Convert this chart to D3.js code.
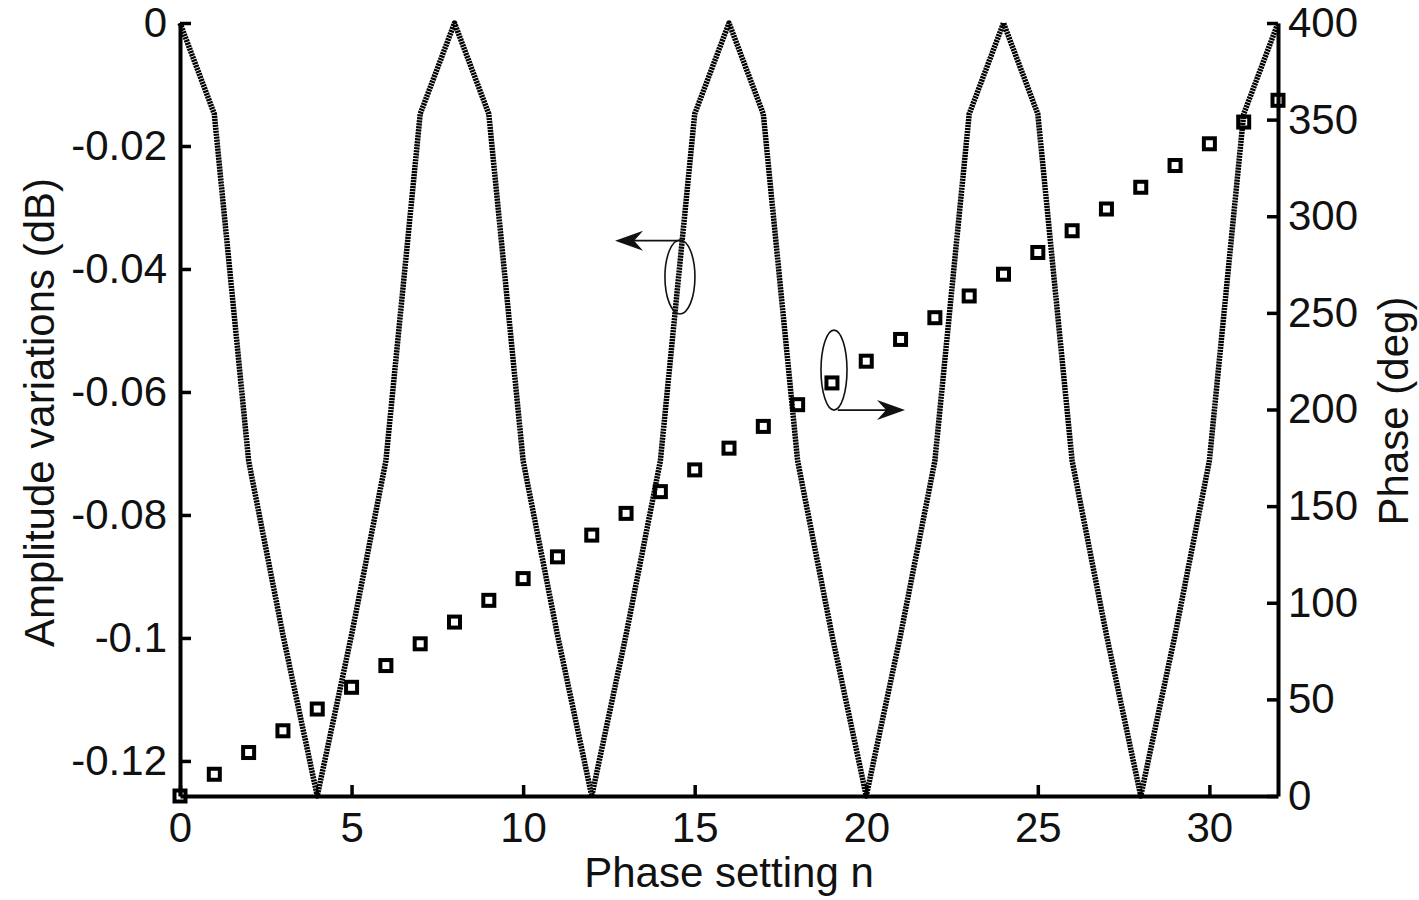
<!DOCTYPE html>
<html>
<head>
<meta charset="utf-8">
<script src="https://cdn.jsdelivr.net/npm/d3@7"></script>
<style>
  body { margin: 0; background: #fff; }
  svg { font-family: "Liberation Sans", Arial, sans-serif; }
</style>
</head>
<body>
<svg id="chart" width="1419" height="900"></svg>
<script>
// phase setting n = 0..32
const settings = [0,1,2,3,4,5,6,7,8,9,10,11,12,13,14,15,16,17,18,19,20,21,22,23,24,25,26,27,28,29,30,31,32];
// amplitude variation (dB)
const amplitude = [
  0, -0.0148, -0.0712, -0.0995, -0.1257, -0.0995, -0.0712, -0.0148,
  0, -0.0148, -0.0712, -0.0995, -0.1257, -0.0995, -0.0712, -0.0148,
  0, -0.0148, -0.0712, -0.0995, -0.1257, -0.0995, -0.0712, -0.0148,
  0, -0.0148, -0.0712, -0.0995, -0.1257, -0.0995, -0.0712, -0.0148,
  0
];
// phase (deg), square markers
const phase = [
  0, 11.25, 22.5, 33.75, 45, 56.25, 67.5, 78.75,
  90, 101.25, 112.5, 123.75, 135, 146.25, 157.5, 168.75,
  180, 191.25, 202.5, 213.75, 225, 236.25, 247.5, 258.75,
  270, 281.25, 292.5, 303.75, 315, 326.25, 337.5, 348.75,
  360
];
const xTicks = [0, 5, 10, 15, 20, 25, 30];
const leftTicks = [0, -0.02, -0.04, -0.06, -0.08, -0.1, -0.12];
const rightTicks = [0, 50, 100, 150, 200, 250, 300, 350, 400];

const margin = {left: 180, right: 141, top: 23, bottom: 104};
const width = 1419, height = 900;
const svg = d3.select("#chart");

const x = d3.scaleLinear().domain([0, 32]).range([margin.left, width - margin.right]);
const yL = d3.scaleLinear().domain([-0.1257, 0]).range([height - margin.bottom, margin.top]);
const yR = d3.scaleLinear().domain([0, 400]).range([height - margin.bottom, margin.top]);

const fontSize = 42;
const fmtL = d => d === 0 ? "0" : String(+d.toFixed(2));

// axes - ticks pointing inward like matlab
const xAxis = d3.axisBottom(x).tickValues(xTicks).tickSizeInner(-11).tickSizeOuter(0).tickPadding(16);
const leftAxis = d3.axisLeft(yL).tickValues(leftTicks).tickFormat(fmtL).tickSizeInner(-11).tickSizeOuter(0).tickPadding(13);
const rightAxis = d3.axisRight(yR).tickValues(rightTicks).tickSizeInner(-11).tickSizeOuter(0).tickPadding(10);

function styleAxis(g) {
  g.select(".domain").attr("stroke", "#000").attr("stroke-width", 4);
  g.selectAll(".tick line").attr("stroke", "#000").attr("stroke-width", 3.5);
  g.selectAll(".tick text").attr("fill", "#111").style("font-size", fontSize + "px")
    .style("font-family", "'Liberation Sans', Arial, sans-serif");
}

// dotted amplitude curve
const line = d3.line().x((d, i) => x(settings[i])).y(d => yL(d));
svg.append("path")
  .datum(amplitude)
  .attr("d", line)
  .attr("fill", "none")
  .attr("stroke", "#000")
  .attr("stroke-width", 5.5)
  .attr("stroke-dasharray", "2.2,0.8")
  .attr("stroke-linejoin", "round");

svg.append("g").attr("transform", `translate(0,${height - margin.bottom})`).call(xAxis).call(styleAxis);
svg.append("g").attr("transform", `translate(${margin.left},0)`).call(leftAxis).call(styleAxis);
svg.append("g").attr("transform", `translate(${width - margin.right},0)`).call(rightAxis).call(styleAxis);

// phase markers
const sq = 11;
svg.append("g").selectAll("rect")
  .data(phase)
  .join("rect")
    .attr("x", (d, i) => x(settings[i]) - sq / 2)
    .attr("y", d => yR(d) - sq / 2)
    .attr("width", sq)
    .attr("height", sq)
    .attr("fill", "none")
    .attr("stroke", "#000")
    .attr("stroke-width", 4);

// axis labels
svg.append("text")
  .attr("x", (x(0) + x(32)) / 2).attr("y", 887)
  .attr("text-anchor", "middle")
  .style("font-size", fontSize + "px").attr("fill", "#111")
  .text("Phase setting n");

svg.append("text")
  .attr("transform", `translate(54,${(yL(0) + yL(-0.1257)) / 2 + 3}) rotate(-90)`)
  .attr("text-anchor", "middle")
  .style("font-size", fontSize + "px").attr("fill", "#111")
  .text("Amplitude variations (dB)");

svg.append("text")
  .attr("transform", `translate(1393,411) rotate(-90)`)
  .attr("text-anchor", "middle")
  .attr("dy", "0.35em")
  .style("font-size", fontSize + "px").attr("fill", "#111")
  .text("Phase (deg)");

// annotations: ellipse + arrow pointing to the axis of each series
const ellipses = [
  {cx: x(14.57), cy: yL(-0.0413), rx: 15, ry: 37},
  {cx: x(19.06), cy: yR(220.4), rx: 13, ry: 40}
];
const arrows = [
  {x1: x(14.65), x2: x(12.68), y: yL(-0.0354)},
  {x1: x(19.17), x2: x(21.13), y: yR(199.7)}
];

svg.append("g").selectAll("ellipse")
  .data(ellipses)
  .join("ellipse")
    .attr("cx", d => d.cx).attr("cy", d => d.cy)
    .attr("rx", d => d.rx).attr("ry", d => d.ry)
    .attr("fill", "none").attr("stroke", "#111").attr("stroke-width", 1.6);

const ag = svg.append("g");
arrows.forEach(a => {
  const dir = a.x2 > a.x1 ? 1 : -1;
  ag.append("line")
    .attr("x1", a.x1).attr("y1", a.y)
    .attr("x2", a.x2 - dir * 15).attr("y2", a.y)
    .attr("stroke", "#111").attr("stroke-width", 1.8);
  const tx = a.x2, ty = a.y;
  ag.append("path")
    .attr("d", `M${tx},${ty} L${tx - dir * 28},${ty - 10} L${tx - dir * 19},${ty} L${tx - dir * 28},${ty + 10} Z`)
    .attr("fill", "#111");
});
</script>
</body>
</html>
